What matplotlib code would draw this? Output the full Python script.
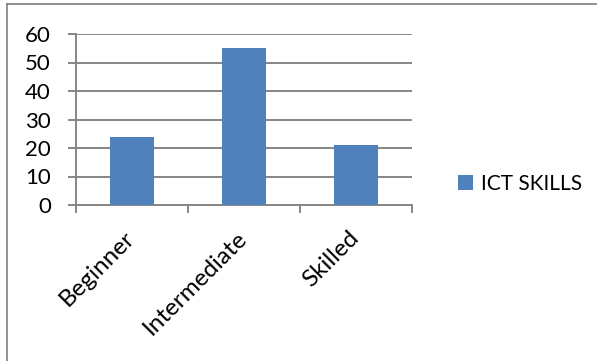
import matplotlib
matplotlib.use("Agg")
import matplotlib.pyplot as plt
from matplotlib.lines import Line2D
from matplotlib.transforms import ScaledTranslation

plt.rcParams['font.family'] = ['Lato', 'DejaVu Sans']

categories = ['Beginner', 'Intermediate', 'Skilled']
ict_skills = [24, 55, 21]
y_ticks = [0, 10, 20, 30, 40, 50, 60]

bar_color = '#4F81BD'
grid_color = '#868686'

fig = plt.figure(figsize=(5.97, 3.61), dpi=100)
ax = fig.add_axes([76 / 597, 1 - 205 / 361, (412 - 76) / 597, (205 - 34) / 361])

x = range(len(categories))
ax.bar(x, ict_skills, width=0.4, color=bar_color, zorder=3, label='ICT SKILLS')

ax.set_xlim(-0.5, len(categories) - 0.5)
ax.set_ylim(0, 60)
ax.set_yticks(y_ticks)
ax.yaxis.grid(True, color=grid_color, linewidth=1.4, zorder=0)
ax.tick_params(axis='y', length=6, width=1.4, color=grid_color, pad=12, labelsize=16)

# category labels sit between the boundary ticks
ax.set_xticks([i - 0.5 for i in range(len(categories) + 1)])
ax.set_xticklabels([])
ax.set_xticks(list(x), minor=True)
ax.set_xticklabels(categories, minor=True, rotation=45, ha='right',
                   rotation_mode='anchor', fontsize=17.5)
ax.tick_params(axis='x', which='major', length=6, width=1.4, color=grid_color, direction='out')
ax.tick_params(axis='x', which='minor', length=0, pad=16)
shift = ScaledTranslation(-8 / 100, 0, fig.dpi_scale_trans)
for lbl in ax.get_xticklabels(minor=True):
    lbl.set_transform(lbl.get_transform() + shift)

for side in ['top', 'right']:
    ax.spines[side].set_visible(False)
for side in ['left', 'bottom']:
    ax.spines[side].set_color(grid_color)
    ax.spines[side].set_linewidth(1.4)

leg = fig.legend(loc='center left', bbox_to_anchor=(448 / 597, 1 - 184 / 361),
                 frameon=False, fontsize=15, handlelength=0.7, handleheight=0.7,
                 handletextpad=0.4, borderpad=0)

# outer chart frame
fig.add_artist(Line2D([7 / 597, 7 / 597], [0, 1 - 4 / 361], transform=fig.transFigure,
                      color='#7f7f7f', linewidth=1.2))
fig.add_artist(Line2D([7 / 597, 1], [1 - 4 / 361, 1 - 4 / 361], transform=fig.transFigure,
                      color='#7f7f7f', linewidth=1.2))

fig.savefig('out.png', dpi=100)
